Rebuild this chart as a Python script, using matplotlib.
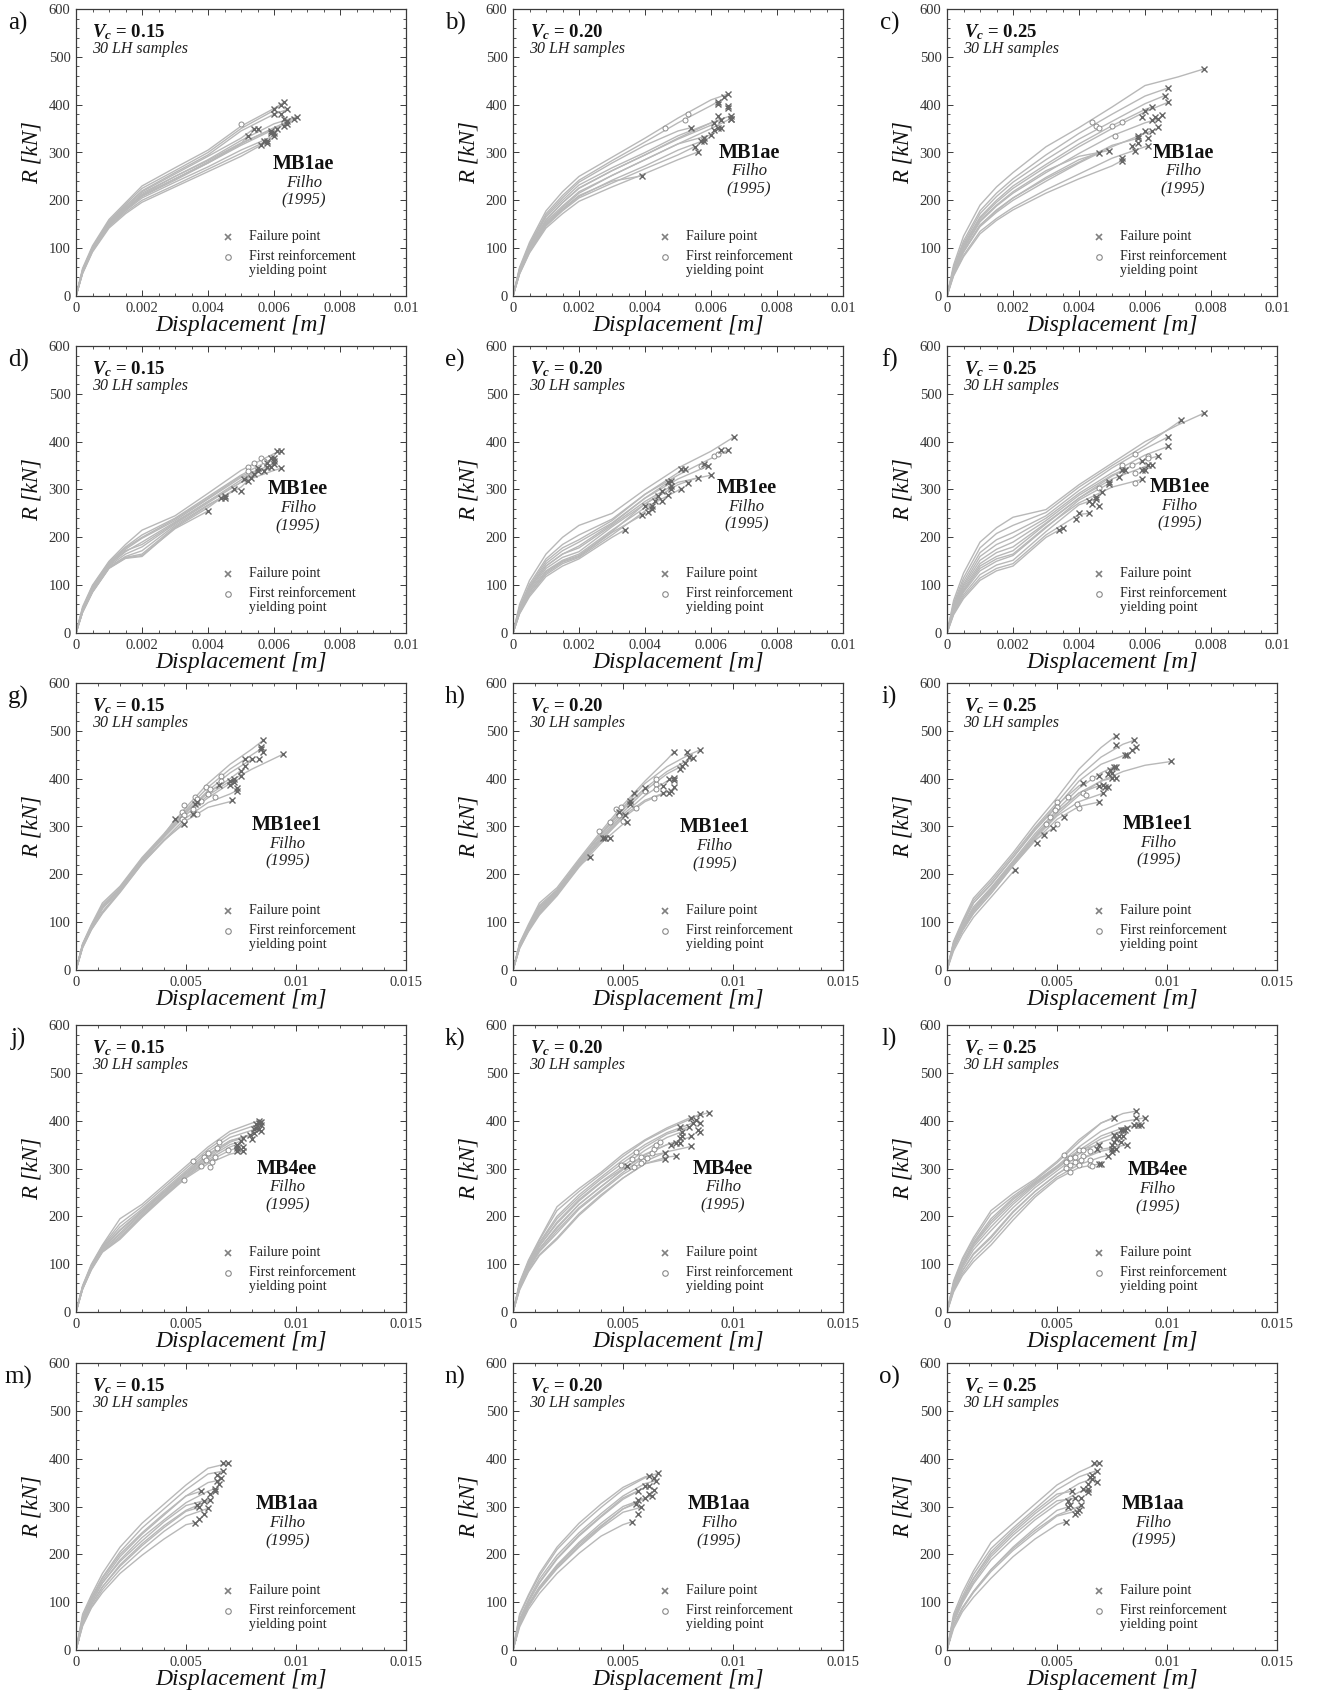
import matplotlib
matplotlib.use("Agg")
import matplotlib.pyplot as plt
from matplotlib.ticker import MultipleLocator, FuncFormatter

plt.rcParams['font.family'] = ['Liberation Serif', 'DejaVu Serif']
plt.rcParams['mathtext.fontset'] = 'custom'
plt.rcParams['mathtext.rm'] = 'Liberation Serif'
plt.rcParams['mathtext.it'] = 'Liberation Serif:italic'
plt.rcParams['mathtext.bf'] = 'Liberation Serif:bold'
plt.rcParams['mathtext.bfit'] = 'Liberation Serif:italic:bold'

# ---------------- shared displacement grids (m) ----------------
GRID_SHORT = [0, 0.0002, 0.0005, 0.001, 0.0015, 0.002, 0.003, 0.004, 0.005, 0.006, 0.007]
GRID_LONG = [0, 0.0003, 0.0007, 0.0012, 0.002, 0.003, 0.004, 0.005, 0.006, 0.007, 0.008, 0.009]

# ---------------- panel a : MB1ae, Vc = 0.15 ----------------
a_end_x = [0.0063, 0.0062, 0.0064, 0.0067, 0.0066, 0.0064, 0.0054, 0.0059, 0.0052, 0.0058, 0.0056, 0.0060]
a_end_y = [405, 400, 390, 375, 370, 360, 350, 345, 335, 325, 315, 335]
a_curves = [
    [0, 58, 105, 160, 195, 230, 268, 305, 355, 392],
    [0, 55, 102, 157, 192, 225, 262, 300, 350, 388],
    [0, 54, 100, 155, 188, 220, 258, 295, 345, 380],
    [0, 52, 98, 150, 182, 212, 250, 285, 325, 360],
    [0, 50, 96, 148, 180, 210, 245, 280, 318, 352],
    [0, 52, 98, 152, 185, 215, 250, 283, 320, 350],
    [0, 53, 100, 155, 188, 218, 255, 292, 330],
    [0, 50, 97, 150, 182, 210, 245, 278, 315],
    [0, 50, 96, 148, 180, 208, 242, 278, 318],
    [0, 48, 94, 145, 175, 200, 232, 265, 298],
    [0, 47, 92, 142, 172, 196, 228, 260, 292],
    [0, 49, 95, 147, 178, 205, 238, 270, 305]]
a_fail_x = [0.0060, 0.0060, 0.0062, 0.0063, 0.0064, 0.0063, 0.0061, 0.0059, 0.0057, 0.0058, 0.0055, 0.0060]
a_fail_y = [390, 380, 380, 370, 365, 355, 350, 340, 325, 320, 350, 340]
a_yield_x = [0.0050]
a_yield_y = [360]

# ---------------- panel b : MB1ae, Vc = 0.20 ----------------
b_end_x = [0.0065, 0.0062, 0.0066, 0.0063, 0.0061, 0.0054, 0.0060, 0.0057, 0.0056, 0.0039, 0.0066, 0.0055]
b_end_y = [422, 406, 377, 367, 361, 352, 337, 323, 301, 251, 371, 312]
b_curves = [
    [0, 60, 112, 178, 218, 250, 290, 330, 372, 410],
    [0, 58, 108, 172, 210, 242, 283, 322, 362, 398],
    [0, 52, 100, 158, 195, 225, 262, 295, 330, 362],
    [0, 55, 104, 165, 200, 232, 268, 300, 335, 362],
    [0, 52, 100, 160, 195, 226, 262, 295, 328, 357],
    [0, 56, 105, 168, 205, 238, 278, 315, 345],
    [0, 50, 96, 152, 185, 215, 252, 285, 318],
    [0, 48, 93, 148, 180, 208, 242, 272, 305],
    [0, 46, 90, 142, 172, 198, 228, 256, 285],
    [0, 50, 95, 150, 182, 210, 240],
    [0, 50, 97, 155, 188, 218, 252, 285, 318, 350],
    [0, 47, 92, 146, 178, 205, 236, 266, 295]]
b_fail_x = [0.0064, 0.0062, 0.0065, 0.0065, 0.0062, 0.0066, 0.0062, 0.0063, 0.0061, 0.0058, 0.0058]
b_fail_y = [417, 401, 397, 392, 376, 371, 352, 352, 347, 331, 323]
b_yield_x = [0.0053, 0.0052, 0.0046]
b_yield_y = [380, 367, 352]

# ---------------- panel c : MB1ae, Vc = 0.25 ----------------
c_end_x = [0.0078, 0.0067, 0.0066, 0.0062, 0.0064, 0.0062, 0.0058, 0.0061, 0.0049, 0.0053, 0.0046, 0.0067]
c_end_y = [475, 435, 419, 395, 370, 345, 330, 314, 304, 283, 299, 405]
c_curves = [
    [0, 65, 125, 190, 228, 258, 312, 352, 395, 440, 458],
    [0, 60, 115, 178, 215, 245, 295, 340, 380, 418],
    [0, 58, 110, 172, 208, 238, 285, 328, 365, 402],
    [0, 56, 106, 165, 200, 230, 275, 318, 356, 390],
    [0, 52, 98, 155, 188, 215, 258, 298, 335, 362],
    [0, 48, 92, 145, 175, 200, 240, 278, 312, 340],
    [0, 50, 94, 148, 180, 205, 245, 280, 315],
    [0, 44, 85, 135, 162, 185, 222, 255, 288, 312],
    [0, 54, 100, 158, 190, 218, 262, 292],
    [0, 42, 82, 130, 158, 180, 215, 245, 272],
    [0, 48, 92, 148, 178, 205, 248, 285],
    [0, 55, 104, 162, 196, 225, 270, 312, 350, 385]]
c_fail_x = [0.0060, 0.0065, 0.0063, 0.0059, 0.0062, 0.0064, 0.0060, 0.0058, 0.0061, 0.0058, 0.0056, 0.0057, 0.0053]
c_fail_y = [386, 379, 375, 374, 367, 354, 345, 335, 330, 320, 313, 304, 288]
c_yield_x = [0.0044, 0.0045, 0.0046, 0.0050, 0.0053, 0.0051]
c_yield_y = [364, 355, 352, 355, 363, 334]

# ---------------- panel d : MB1ee, Vc = 0.15 ----------------
d_end_x = [0.0062, 0.0060, 0.0059, 0.0055, 0.0054, 0.0052, 0.0048, 0.0045, 0.0040, 0.0060, 0.0062]
d_end_y = [380, 366, 346, 339, 332, 318, 300, 287, 255, 353, 344]
d_curves = [
    [0, 55, 100, 150, 185, 215, 245, 292, 340, 375],
    [0, 52, 98, 148, 180, 205, 240, 285, 330],
    [0, 50, 95, 145, 175, 198, 235, 280, 325],
    [0, 48, 92, 142, 170, 190, 232, 275, 320],
    [0, 46, 90, 140, 165, 180, 228, 272, 315],
    [0, 45, 88, 138, 160, 172, 225, 268, 305],
    [0, 44, 86, 136, 158, 165, 222, 266],
    [0, 43, 85, 135, 156, 160, 220, 262],
    [0, 44, 86, 136, 157, 162, 218],
    [0, 50, 96, 146, 178, 200, 238, 282, 328],
    [0, 48, 93, 143, 172, 185, 230, 275, 315, 340]]
d_fail_x = [0.0061, 0.0059, 0.0060, 0.0058, 0.0058, 0.0055, 0.0057, 0.0053, 0.0051, 0.0050, 0.0044, 0.0045]
d_fail_y = [380, 365, 360, 356, 346, 344, 339, 323, 321, 296, 282, 282]
d_yield_x = [0.0056, 0.0054, 0.0052, 0.0052, 0.0057]
d_yield_y = [366, 356, 346, 339, 360]

# ---------------- panel e : MB1ee, Vc = 0.20 ----------------
e_end_x = [0.0067, 0.0065, 0.0059, 0.0060, 0.0056, 0.0052, 0.0051, 0.0047, 0.0044, 0.0042, 0.0034, 0.0039]
e_end_y = [410, 382, 349, 330, 325, 342, 302, 315, 287, 266, 216, 246]
e_curves = [
    [0, 60, 110, 165, 200, 225, 250, 300, 345, 380],
    [0, 55, 102, 155, 185, 205, 238, 290, 330, 365],
    [0, 50, 95, 145, 172, 190, 230, 282, 322],
    [0, 48, 92, 140, 165, 178, 225, 275, 315],
    [0, 46, 88, 135, 158, 170, 222, 270, 310],
    [0, 52, 98, 150, 178, 195, 235, 290, 335],
    [0, 44, 85, 130, 152, 165, 215, 262, 298],
    [0, 48, 92, 140, 165, 182, 228, 282],
    [0, 44, 85, 128, 150, 162, 212, 270],
    [0, 42, 80, 122, 145, 158, 205, 255],
    [0, 40, 76, 118, 140, 155, 200],
    [0, 42, 80, 125, 148, 160, 210]]
e_fail_x = [0.0063, 0.0058, 0.0051, 0.0053, 0.0048, 0.0048, 0.0048, 0.0045, 0.0047, 0.0043, 0.0045, 0.0040, 0.0041, 0.0042]
e_fail_y = [382, 354, 342, 313, 318, 308, 300, 297, 288, 277, 275, 266, 253, 260]
e_yield_x = [0.0061, 0.0057, 0.0062]
e_yield_y = [370, 349, 375]

# ---------------- panel f : MB1ee, Vc = 0.25 ----------------
f_end_x = [0.0078, 0.0071, 0.0067, 0.0067, 0.0064, 0.0061, 0.0059, 0.0054, 0.0049, 0.0045, 0.0043, 0.0035]
f_end_y = [460, 446, 410, 390, 370, 351, 321, 341, 312, 280, 250, 219]
f_curves = [
    [0, 68, 125, 190, 220, 242, 258, 310, 355, 400, 435],
    [0, 62, 115, 178, 208, 225, 252, 305, 350, 392, 440],
    [0, 58, 108, 168, 195, 210, 245, 298, 345, 385],
    [0, 55, 102, 160, 185, 200, 240, 292, 335, 372],
    [0, 52, 98, 152, 175, 190, 235, 288, 330, 362],
    [0, 50, 94, 145, 168, 180, 230, 282, 322, 348],
    [0, 46, 88, 135, 155, 165, 222, 272, 305],
    [0, 48, 90, 140, 160, 172, 228, 282, 328],
    [0, 44, 85, 130, 150, 162, 220, 278],
    [0, 42, 80, 122, 142, 152, 212, 268],
    [0, 40, 76, 115, 135, 145, 205, 248],
    [0, 38, 72, 110, 130, 140, 200]]
f_fail_x = [0.0062, 0.0059, 0.0059, 0.0060, 0.0053, 0.0052, 0.0049, 0.0047, 0.0045, 0.0043, 0.0044, 0.0046, 0.0040, 0.0039, 0.0034]
f_fail_y = [351, 360, 341, 341, 341, 326, 316, 294, 285, 275, 270, 265, 251, 239, 216]
f_yield_x = [0.0057, 0.0061, 0.0061, 0.0053, 0.0056, 0.0057, 0.0057, 0.0046]
f_yield_y = [375, 370, 365, 351, 351, 335, 314, 304]

# ---------------- panel g : MB1ee1, Vc = 0.15 ----------------
g_end_x = [0.0085, 0.0094, 0.0084, 0.0080, 0.0075, 0.0072, 0.0073, 0.0071, 0.0065, 0.0055, 0.0049, 0.0045]
g_end_y = [480, 451, 462, 441, 417, 399, 375, 355, 386, 351, 305, 315]
g_curves = [
    [0, 55, 95, 140, 175, 235, 285, 340, 390, 430, 462],
    [0, 50, 88, 128, 168, 228, 278, 325, 365, 395, 420, 442],
    [0, 54, 93, 135, 172, 232, 282, 335, 382, 420, 450],
    [0, 52, 90, 132, 170, 230, 280, 330, 375, 412],
    [0, 52, 90, 132, 170, 230, 280, 330, 370, 400],
    [0, 50, 88, 130, 168, 228, 278, 325, 360, 390],
    [0, 48, 86, 122, 165, 225, 272, 318, 350, 368],
    [0, 48, 85, 120, 164, 222, 270, 312, 340, 352],
    [0, 52, 90, 135, 170, 230, 282, 332, 372],
    [0, 50, 90, 132, 170, 230, 282, 330],
    [0, 46, 84, 118, 162, 222, 272],
    [0, 50, 88, 130, 168, 228, 282]]
g_fail_x = [0.0084, 0.0085, 0.0077, 0.0083, 0.0077, 0.0075, 0.0072, 0.0070, 0.0070, 0.0073, 0.0054, 0.0053]
g_fail_y = [466, 456, 441, 441, 426, 406, 392, 396, 387, 380, 346, 326]
g_yield_x = [0.0049, 0.0048, 0.0049, 0.0048, 0.0049, 0.0054, 0.0055, 0.0053, 0.0055, 0.0057, 0.0059, 0.0060, 0.0063, 0.0066, 0.0066, 0.0061]
g_yield_y = [344, 330, 323, 316, 311, 361, 357, 337, 326, 354, 382, 368, 361, 406, 396, 379]

# ---------------- panel h : MB1ee1, Vc = 0.20 ----------------
h_end_x = [0.0085, 0.0073, 0.0082, 0.0077, 0.0073, 0.0072, 0.0068, 0.0060, 0.0052, 0.0042, 0.0035]
h_end_y = [460, 455, 443, 427, 401, 375, 369, 380, 310, 275, 236]
h_curves = [
    [0, 55, 92, 135, 168, 228, 285, 340, 390, 425, 450],
    [0, 56, 95, 140, 172, 232, 290, 345, 395, 440],
    [0, 52, 90, 130, 165, 225, 282, 335, 380, 415, 440],
    [0, 50, 88, 128, 162, 222, 278, 330, 375, 410],
    [0, 50, 86, 125, 160, 222, 275, 325, 365, 395],
    [0, 48, 84, 120, 158, 218, 270, 318, 352, 372],
    [0, 48, 84, 120, 158, 220, 272, 322, 355],
    [0, 52, 90, 132, 166, 228, 285, 338],
    [0, 45, 80, 115, 155, 215, 265, 305],
    [0, 48, 84, 122, 160, 220, 270],
    [0, 46, 82, 118, 158, 218]]
h_fail_x = [0.0079, 0.0080, 0.0078, 0.0076, 0.0073, 0.0071, 0.0073, 0.0071, 0.0068, 0.0055, 0.0053, 0.0053, 0.0048, 0.0051, 0.0044, 0.0041]
h_fail_y = [455, 445, 432, 420, 397, 399, 383, 369, 385, 370, 354, 347, 331, 323, 275, 275]
h_yield_x = [0.0039, 0.0044, 0.0048, 0.0047, 0.0049, 0.0050, 0.0056, 0.0060, 0.0064, 0.0065, 0.0065, 0.0065]
h_yield_y = [290, 310, 323, 337, 340, 312, 338, 375, 360, 389, 399, 378]

# ---------------- panel i : MB1ee1, Vc = 0.25 ----------------
i_end_x = [0.0077, 0.0085, 0.0102, 0.0082, 0.0076, 0.0075, 0.0069, 0.0071, 0.0069, 0.0062, 0.0048, 0.0031]
i_end_y = [490, 480, 436, 450, 425, 401, 385, 370, 351, 390, 296, 210]
i_curves = [
    [0, 60, 102, 150, 190, 245, 305, 360, 420, 465],
    [0, 58, 98, 145, 185, 240, 298, 350, 405, 445, 472],
    [0, 48, 85, 125, 165, 222, 278, 325, 365, 395, 415, 428],
    [0, 55, 95, 140, 180, 235, 292, 342, 395, 430, 448],
    [0, 52, 90, 132, 172, 228, 285, 335, 380, 412],
    [0, 50, 88, 128, 170, 225, 280, 330, 370, 395],
    [0, 50, 88, 128, 168, 225, 280, 330, 370],
    [0, 48, 84, 122, 165, 220, 275, 322, 352, 368],
    [0, 46, 82, 118, 160, 218, 270, 315, 342],
    [0, 55, 95, 140, 178, 235, 295, 345, 385],
    [0, 45, 82, 118, 160, 218, 272],
    [0, 40, 75, 110, 152, 205]]
i_fail_x = [0.0077, 0.0086, 0.0084, 0.0081, 0.0077, 0.0074, 0.0075, 0.0073, 0.0077, 0.0069, 0.0072, 0.0071, 0.0073, 0.0053, 0.0044, 0.0041]
i_fail_y = [471, 466, 460, 450, 425, 418, 411, 409, 401, 405, 383, 387, 382, 320, 282, 265]
i_yield_x = [0.0050, 0.0050, 0.0049, 0.0047, 0.0045, 0.0050, 0.0055, 0.0062, 0.0063, 0.0066, 0.0060, 0.0059]
i_yield_y = [351, 341, 334, 320, 305, 306, 362, 369, 366, 401, 338, 348]

# ---------------- panel j : MB4ee, Vc = 0.15 ----------------
j_end_x = [0.0083, 0.0084, 0.0081, 0.0081, 0.0079, 0.0076, 0.0075, 0.0073, 0.0076, 0.0073]
j_end_y = [399, 390, 383, 375, 369, 364, 357, 343, 336, 350]
j_curves = [
    [0, 55, 100, 140, 195, 225, 265, 305, 345, 378, 395],
    [0, 54, 98, 138, 185, 220, 260, 300, 340, 372, 388],
    [0, 52, 96, 136, 178, 215, 255, 295, 335, 365, 380],
    [0, 50, 94, 132, 170, 210, 250, 290, 328, 358, 372],
    [0, 50, 92, 130, 165, 208, 248, 288, 325, 355],
    [0, 52, 95, 135, 172, 212, 252, 292, 330, 358],
    [0, 50, 92, 130, 162, 205, 245, 285, 322, 350],
    [0, 48, 90, 126, 155, 200, 242, 282, 315, 338],
    [0, 48, 88, 125, 152, 198, 240, 280, 310, 330],
    [0, 48, 90, 128, 158, 202, 244, 284, 318, 345]]
j_fail_x = [0.0084, 0.0082, 0.0083, 0.0084, 0.0080, 0.0073, 0.0076, 0.0073, 0.0082, 0.0083]
j_fail_y = [397, 394, 382, 378, 362, 336, 345, 350, 385, 395]
j_yield_x = [0.0053, 0.0057, 0.0058, 0.0060, 0.0062, 0.0063, 0.0064, 0.0065, 0.0061, 0.0049, 0.0059, 0.0069]
j_yield_y = [315, 306, 324, 332, 313, 325, 343, 355, 303, 275, 318, 338]

# ---------------- panel k : MB4ee, Vc = 0.20 ----------------
k_end_x = [0.0089, 0.0085, 0.0082, 0.0080, 0.0077, 0.0081, 0.0074, 0.0081, 0.0069, 0.0074, 0.0052, 0.0069]
k_end_y = [417, 414, 396, 387, 377, 367, 354, 346, 333, 326, 306, 319]
k_curves = [
    [0, 62, 108, 152, 220, 258, 292, 330, 360, 385, 405],
    [0, 60, 105, 150, 212, 252, 288, 325, 358, 382, 402],
    [0, 58, 102, 145, 200, 245, 282, 318, 350, 375, 392],
    [0, 56, 100, 142, 195, 240, 278, 312, 345, 372],
    [0, 55, 98, 138, 188, 235, 272, 305, 338, 365],
    [0, 52, 94, 132, 178, 225, 262, 298, 328, 350, 365],
    [0, 52, 94, 132, 175, 225, 262, 298, 330, 350],
    [0, 50, 90, 126, 165, 215, 252, 288, 315, 335, 345],
    [0, 50, 90, 128, 170, 218, 255, 292, 325],
    [0, 48, 86, 120, 155, 205, 245, 280, 310, 324],
    [0, 55, 98, 138, 185, 232, 270, 300],
    [0, 46, 84, 118, 152, 202, 242, 280, 310]]
k_fail_x = [0.0081, 0.0083, 0.0085, 0.0076, 0.0084, 0.0085, 0.0077, 0.0076, 0.0072, 0.0076]
k_fail_y = [405, 401, 396, 387, 380, 377, 367, 354, 349, 364]
k_yield_x = [0.0049, 0.0056, 0.0054, 0.0058, 0.0059, 0.0061, 0.0055, 0.0063, 0.0067, 0.0064, 0.0058, 0.0065]
k_yield_y = [307, 335, 319, 325, 316, 322, 304, 333, 356, 340, 311, 349]

# ---------------- panel l : MB4ee, Vc = 0.25 ----------------
l_end_x = [0.0086, 0.0076, 0.0090, 0.0088, 0.0082, 0.0078, 0.0082, 0.0075, 0.0073, 0.0070, 0.0069]
l_end_y = [420, 406, 406, 391, 384, 367, 350, 341, 327, 310, 350]
l_curves = [
    [0, 65, 112, 155, 212, 248, 278, 315, 360, 395, 415],
    [0, 62, 108, 150, 205, 242, 275, 312, 355, 395],
    [0, 58, 102, 145, 195, 238, 272, 305, 345, 378, 398],
    [0, 55, 98, 140, 185, 230, 268, 302, 338, 368, 385],
    [0, 54, 96, 136, 178, 225, 265, 300, 335, 362, 380],
    [0, 52, 92, 130, 170, 218, 260, 295, 330, 355],
    [0, 48, 86, 120, 155, 208, 252, 288, 318, 340, 348],
    [0, 48, 86, 122, 158, 210, 252, 288, 318, 336],
    [0, 45, 80, 112, 148, 200, 245, 282, 308, 324],
    [0, 42, 76, 105, 140, 192, 240, 278, 302],
    [0, 56, 100, 142, 190, 235, 270, 305, 338]]
l_fail_x = [0.0086, 0.0085, 0.0087, 0.0080, 0.0079, 0.0081, 0.0080, 0.0076, 0.0077, 0.0079, 0.0076, 0.0075, 0.0077, 0.0075, 0.0068, 0.0069]
l_fail_y = [406, 391, 391, 380, 380, 380, 367, 371, 362, 356, 356, 349, 341, 335, 341, 310]
l_yield_x = [0.0053, 0.0056, 0.0054, 0.0056, 0.0054, 0.0056, 0.0058, 0.0058, 0.0060, 0.0062, 0.0062, 0.0061, 0.0065, 0.0065, 0.0065, 0.0066, 0.0060]
l_yield_y = [328, 322, 313, 307, 301, 292, 313, 325, 338, 338, 327, 317, 317, 308, 336, 305, 308]

# ---------------- panel m : MB1aa, Vc = 0.15 ----------------
m_end_x = [0.0069, 0.0067, 0.0064, 0.0063, 0.0061, 0.0058, 0.0056, 0.0054, 0.0057, 0.0060]
m_end_y = [390, 374, 354, 337, 313, 312, 298, 266, 332, 296]
m_curves = [
    [0, 75, 115, 160, 215, 265, 305, 345, 380],
    [0, 70, 110, 152, 205, 255, 295, 335, 368],
    [0, 65, 105, 145, 195, 242, 282, 322, 350],
    [0, 60, 100, 140, 188, 235, 272, 308, 332],
    [0, 55, 95, 132, 178, 222, 260, 292, 312],
    [0, 60, 100, 140, 185, 228, 268, 302],
    [0, 55, 95, 132, 175, 218, 256, 290],
    [0, 50, 88, 120, 160, 198, 232, 262],
    [0, 65, 108, 150, 200, 245, 285, 322],
    [0, 52, 90, 126, 168, 210, 248, 280]]
m_fail_x = [0.0067, 0.0064, 0.0066, 0.0065, 0.0063, 0.0061, 0.0055, 0.0058, 0.0056]
m_fail_y = [390, 365, 360, 346, 332, 326, 303, 285, 273]
m_yield_x = []
m_yield_y = []

# ---------------- panel n : MB1aa, Vc = 0.20 ----------------
n_end_x = [0.0066, 0.0062, 0.0065, 0.0062, 0.0057, 0.0060, 0.0058, 0.0054, 0.0063, 0.0056]
n_end_y = [369, 364, 354, 343, 333, 317, 298, 268, 322, 306]
n_curves = [
    [0, 75, 115, 160, 215, 265, 305, 340, 362],
    [0, 72, 112, 155, 210, 258, 298, 335, 360],
    [0, 65, 105, 148, 198, 245, 285, 322, 348],
    [0, 60, 100, 140, 190, 238, 278, 315, 340],
    [0, 62, 102, 142, 192, 240, 280, 318],
    [0, 56, 95, 132, 178, 225, 265, 300],
    [0, 52, 90, 126, 170, 215, 255, 288],
    [0, 48, 85, 118, 160, 202, 238, 262],
    [0, 55, 94, 130, 175, 222, 260, 295, 318],
    [0, 54, 92, 128, 172, 218, 258, 295]]
n_fail_x = [0.0064, 0.0060, 0.0064, 0.0062, 0.0057, 0.0057]
n_fail_y = [359, 343, 334, 327, 314, 284]
n_yield_x = []
n_yield_y = []

# ---------------- panel o : MB1aa, Vc = 0.25 ----------------
o_end_x = [0.0069, 0.0068, 0.0066, 0.0064, 0.0058, 0.0061, 0.0060, 0.0054, 0.0057, 0.0055]
o_end_y = [391, 375, 358, 336, 317, 303, 292, 268, 332, 299]
o_curves = [
    [0, 75, 120, 165, 225, 265, 305, 345, 372],
    [0, 70, 112, 158, 212, 255, 295, 335, 362],
    [0, 65, 105, 148, 200, 245, 285, 320, 348],
    [0, 58, 98, 138, 188, 232, 272, 305, 330],
    [0, 62, 102, 142, 195, 240, 278, 312],
    [0, 52, 88, 122, 168, 212, 250, 282, 300],
    [0, 50, 86, 120, 164, 208, 245, 280],
    [0, 45, 80, 110, 150, 195, 232, 262],
    [0, 66, 108, 150, 205, 250, 290, 326],
    [0, 52, 88, 122, 168, 215, 255, 292]]
o_fail_x = [0.0067, 0.0066, 0.0065, 0.0068, 0.0064, 0.0062, 0.0064, 0.0055, 0.0056, 0.0058, 0.0059, 0.0061]
o_fail_y = [391, 365, 361, 351, 348, 336, 330, 311, 303, 285, 289, 317]
o_yield_x = []
o_yield_y = []

# ---------------- panel labels ----------------
PANEL_LETTERS = ['a)', 'b)', 'c)', 'd)', 'e)', 'f)', 'g)', 'h)', 'i)', 'j)', 'k)', 'l)', 'm)', 'n)', 'o)']
VC_LABELS = ['0.15', '0.20', '0.25'] * 5
SPECIMENS = ['MB1ae'] * 3 + ['MB1ee'] * 3 + ['MB1ee1'] * 3 + ['MB4ee'] * 3 + ['MB1aa'] * 3
X_MAX = [0.01] * 6 + [0.015] * 9

PANELS = [
    (a_end_x, a_end_y, a_curves, a_fail_x, a_fail_y, a_yield_x, a_yield_y),
    (b_end_x, b_end_y, b_curves, b_fail_x, b_fail_y, b_yield_x, b_yield_y),
    (c_end_x, c_end_y, c_curves, c_fail_x, c_fail_y, c_yield_x, c_yield_y),
    (d_end_x, d_end_y, d_curves, d_fail_x, d_fail_y, d_yield_x, d_yield_y),
    (e_end_x, e_end_y, e_curves, e_fail_x, e_fail_y, e_yield_x, e_yield_y),
    (f_end_x, f_end_y, f_curves, f_fail_x, f_fail_y, f_yield_x, f_yield_y),
    (g_end_x, g_end_y, g_curves, g_fail_x, g_fail_y, g_yield_x, g_yield_y),
    (h_end_x, h_end_y, h_curves, h_fail_x, h_fail_y, h_yield_x, h_yield_y),
    (i_end_x, i_end_y, i_curves, i_fail_x, i_fail_y, i_yield_x, i_yield_y),
    (j_end_x, j_end_y, j_curves, j_fail_x, j_fail_y, j_yield_x, j_yield_y),
    (k_end_x, k_end_y, k_curves, k_fail_x, k_fail_y, k_yield_x, k_yield_y),
    (l_end_x, l_end_y, l_curves, l_fail_x, l_fail_y, l_yield_x, l_yield_y),
    (m_end_x, m_end_y, m_curves, m_fail_x, m_fail_y, m_yield_x, m_yield_y),
    (n_end_x, n_end_y, n_curves, n_fail_x, n_fail_y, n_yield_x, n_yield_y),
    (o_end_x, o_end_y, o_curves, o_fail_x, o_fail_y, o_yield_x, o_yield_y),
]

# ---------------- layout / style ----------------
FIG_W, FIG_H = 1319, 1694
COL_LEFT = [76, 513, 947]
ROW_TOP = [9, 346, 683, 1025, 1363]
AX_W, AX_H = 330, 287
# specimen-label anchor (axes fraction) per panel
NAME_POS = [(0.69, 0.46), (0.715, 0.50), (0.715, 0.50),
            (0.673, 0.50), (0.707, 0.505), (0.705, 0.51),
            (0.64, 0.505), (0.61, 0.497), (0.64, 0.51),
            (0.64, 0.50), (0.636, 0.50), (0.638, 0.494),
            (0.64, 0.508), (0.624, 0.508), (0.625, 0.51)]

CURVE_C = '#b8b8b8'
FAIL_C = '#666666'
YIELD_C = '#8c8c8c'
AXIS_C = '#3a3a3a'
TEXT_C = '#111111'

fig = plt.figure(figsize=(FIG_W / 100, FIG_H / 100), dpi=100)
fmt = FuncFormatter(lambda v, p: '%g' % round(v, 6))

for idx, (ex, ey, curves, fx, fy, yx, yy) in enumerate(PANELS):
    r, c = divmod(idx, 3)
    left = COL_LEFT[c] / FIG_W
    bottom = 1 - (ROW_TOP[r] + AX_H) / FIG_H
    ax = fig.add_axes([left, bottom, AX_W / FIG_W, AX_H / FIG_H])
    grid = GRID_SHORT if X_MAX[idx] == 0.01 else GRID_LONG

    for vals, xe, ye in zip(curves, ex, ey):
        xs = [g for g in grid[:len(vals)] if g < xe]
        ys = list(vals[:len(xs)])
        ax.plot(xs + [xe], ys + [ye], color=CURVE_C, lw=1.0, zorder=2,
                solid_joinstyle='round')

    if yx:
        ax.plot(yx, yy, ls='none', marker='o', ms=3.6, mfc='white', mec=YIELD_C, mew=0.7, zorder=3)
    ax.plot(list(ex) + list(fx), list(ey) + list(fy), ls='none', marker='x', ms=3.8,
            color=FAIL_C, mew=1.0, zorder=4)

    ax.set_xlim(0, X_MAX[idx])
    ax.set_ylim(0, 600)
    if X_MAX[idx] == 0.01:
        ax.xaxis.set_major_locator(MultipleLocator(0.002))
        ax.xaxis.set_minor_locator(MultipleLocator(0.0005))
    else:
        ax.xaxis.set_major_locator(MultipleLocator(0.005))
        ax.xaxis.set_minor_locator(MultipleLocator(0.001))
    ax.yaxis.set_major_locator(MultipleLocator(100))
    ax.yaxis.set_minor_locator(MultipleLocator(20))
    ax.xaxis.set_major_formatter(fmt)
    ax.yaxis.set_major_formatter(FuncFormatter(lambda v, p: '%d' % v))
    ax.tick_params(which='both', direction='in', top=True, right=True, colors=AXIS_C,
                   labelsize=10.5, labelcolor='#333333')
    ax.tick_params(which='major', length=4, width=0.7, pad=4)
    ax.tick_params(which='minor', length=2, width=0.6)
    for s in ax.spines.values():
        s.set_color(AXIS_C)
        s.set_linewidth(0.9)

    ax.set_xlabel('Displacement [m]', fontsize=17, style='italic', color=TEXT_C, labelpad=0)
    ax.set_ylabel('R [kN]', fontsize=16.5, style='italic', color=TEXT_C, labelpad=4)

    ax.text(-0.175, 0.95, PANEL_LETTERS[idx], transform=ax.transAxes, fontsize=18,
            ha='center', va='center', color=TEXT_C)
    ax.text(0.05, 0.92, r'$\mathbfit{V}_{\mathbfit{c}}$ = ' + VC_LABELS[idx], transform=ax.transAxes,
            fontsize=13.5, fontweight='bold', ha='left', va='center', color=TEXT_C)
    ax.text(0.05, 0.862, '30 LH samples', transform=ax.transAxes, fontsize=11.5,
            style='italic', ha='left', va='center', color='#222222')

    nx, ny = NAME_POS[idx]
    ax.text(nx, ny, SPECIMENS[idx], transform=ax.transAxes, fontsize=14.5,
            fontweight='bold', ha='center', va='center', color=TEXT_C)
    ax.text(nx, ny - 0.066, 'Filho', transform=ax.transAxes, fontsize=12,
            style='italic', ha='center', va='center', color='#222222')
    ax.text(nx, ny - 0.128, '(1995)', transform=ax.transAxes, fontsize=12,
            style='italic', ha='center', va='center', color='#222222')

    # in-plot legend
    ax.plot([0.46], [0.207], transform=ax.transAxes, ls='none', marker='x', ms=4.4,
            color='#808080', mew=1.2)
    ax.plot([0.46], [0.136], transform=ax.transAxes, ls='none', marker='o', ms=4,
            mfc='white', mec='#8a8a8a', mew=0.8)
    ax.text(0.525, 0.207, 'Failure point', transform=ax.transAxes, fontsize=10,
            ha='left', va='center', color='#222222')
    ax.text(0.525, 0.136, 'First reinforcement', transform=ax.transAxes, fontsize=10,
            ha='left', va='center', color='#222222')
    ax.text(0.525, 0.088, 'yielding point', transform=ax.transAxes, fontsize=10,
            ha='left', va='center', color='#222222')

fig.savefig('out.png', dpi=100, facecolor='white')
